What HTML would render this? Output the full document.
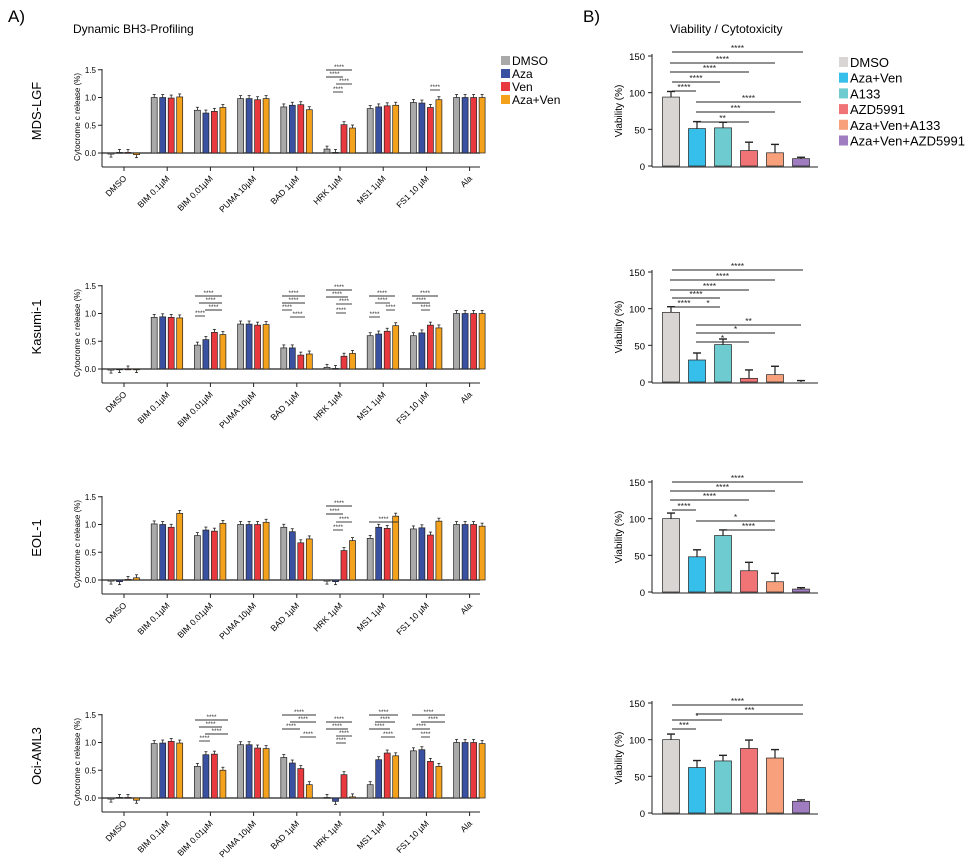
<!DOCTYPE html>
<html><head><meta charset="utf-8"><style>
body{margin:0;background:#fff}
svg{display:block;font-family:"Liberation Sans",Arial,sans-serif}
</style></head><body>
<svg id="s" width="970" height="868" xmlns="http://www.w3.org/2000/svg"></svg>
<script>
const s=document.getElementById('s');let h='';
const T=(x,y,t,sz,a,extra)=>h+=`<text x="${x}" y="${y}" font-size="${sz}" text-anchor="${a||'start'}" ${extra||''}>${t}</text>`;
const L=(x1,y1,x2,y2,w,c)=>h+=`<line x1="${x1}" y1="${y1}" x2="${x2}" y2="${y2}" stroke="${c||'#222'}" stroke-width="${w||1}"/>`;
const R=(x,y,w,hh,c)=>h+=`<rect x="${x}" y="${y}" width="${w}" height="${hh}" fill="${c}" stroke="#222" stroke-width="0.7"/>`;
T(8,22,'A)',17);T(583,22,'B)',17);
T(73,33,'Dynamic BH3-Profiling',12);T(670,33,'Viability / Cytotoxicity',12);
const LC=['#a9a9a9','#3a50a0','#e8393f','#f4a21c'];
const names=['MDS-LGF','Kasumi-1','EOL-1','Oci-AML3'];
const groups=['DMSO','BIM 0.1µM','BIM 0.01µM','PUMA 10µM','BAD 1µM','HRK 1µM','MS1 1µM','FS1 10 µM','Ala'];
const D=[
[[-.02,.01,.01,-.03],[1,1,.99,1.01],[.77,.72,.75,.82],[.98,.98,.96,.98],[.83,.86,.87,.78],[.07,.01,.51,.45],[.8,.83,.85,.86],[.91,.9,.82,.96],[1,1,1,1]],
[[-.02,-.01,0,-.01],[.93,.94,.93,.92],[.43,.53,.66,.62],[.81,.81,.79,.8],[.38,.38,.25,.27],[.03,.01,.23,.28],[.6,.63,.68,.78],[.6,.65,.79,.74],[1,1,1,1]],
[[-.02,-.03,.01,.04],[1.01,1,.95,1.2],[.8,.9,.88,1.02],[1,1,1,1.04],[.95,.87,.67,.74],[-.02,-.03,.53,.71],[.75,.95,.93,1.15],[.92,.94,.81,1.06],[1,1,1,.97]],
[[-.02,.01,.01,-.04],[.98,.99,1.02,.99],[.57,.78,.79,.5],[.96,.96,.9,.89],[.73,.63,.53,.24],[.01,-.06,.42,.02],[.24,.69,.81,.76],[.85,.87,.66,.57],[1,1,1,.98]]];
const Z=[153,369,580,798];
for(let p=0;p<4;p++){
 const z=Z[p],k=55.5;
 L(102,z-84,102,z+14);L(102,z+14,480,z+14);L(102,z,480,z,1.2);
 [0,.5,1,1.5].forEach(v=>{const y=z-v*k;L(98,y,102,y);T(96,y+3,v.toFixed(1),8,'end');});
 T(0,0,'Cytocrome c release (%)',8,'middle',`transform="translate(80,${z-36}) rotate(-90)"`);
 T(0,0,names[p],13,'middle',`transform="translate(41,${z-42}) rotate(-90)"`);
 for(let g=0;g<9;g++){
  const cx=124+g*43.2;L(cx,z+14,cx,z+18);
  T(0,0,groups[g],8.5,'end',`transform="translate(${cx+3},${z+26}) rotate(-45)"`);
  D[p][g].forEach((v,i)=>{const x=cx-16+i*8.5;const y=z-v*k;
   const top=Math.min(y,z),hh=Math.abs(v*k);
   const ey=y-(v>=0?3:-3);
   L(x+3,y,x+3,ey,0.8);L(x+1.5,ey,x+4.5,ey,0.8);
   R(x,top,6,Math.max(hh,0.8),LC[i]);});
 }
}
['DMSO','Aza','Ven','Aza+Ven'].forEach((t,i)=>{h+=`<rect x="501" y="${56+i*13}" width="9" height="9" fill="${LC[i]}"/>`;T(512,65+i*13,t,12);});
const sig=(x1,x2,y)=>{L(x1,y,x2,y,0.9,'#333');T((x1+x2)/2,y-1,'****',6.5,'middle','fill="#333"');};
sig(326,352,70);sig(326,343,77);sig(336,352,84);sig(333,343,92);sig(430,440,90);
sig(195,222,296);sig(199,222,303);sig(205,222,310);sig(195,205,316);
sig(282,305,296);sig(282,305,303);sig(282,292,310);sig(290,305,317);
sig(326,352,290);sig(326,348,297);sig(336,352,304);sig(336,346,313);
sig(369,395,296);sig(375,390,303);sig(386,395,310);sig(369,380,317);
sig(412,438,296);sig(412,430,303);sig(421,430,310);
sig(326,352,506);sig(326,343,514);sig(336,352,522);sig(333,343,530);sig(369,398,522);
sig(195,228,720);sig(199,222,727);sig(205,228,734);sig(199,210,741);
sig(282,316,715);sig(290,316,722);sig(282,300,729);sig(300,316,737);
sig(326,352,722);sig(326,348,729);sig(336,352,736);sig(336,346,743);
sig(369,398,715);sig(375,395,722);sig(369,390,729);sig(381,395,737);
sig(412,445,715);sig(421,445,722);sig(412,430,729);sig(421,430,737);
const RC=['#d9d5d3','#36bfea','#6ecbcf','#f07475','#f7a07b','#a07cc0'];
const RV=[[94,51,52,21,18,10],[95,30,51,5,10,0],[100,48,77,29,14,4],[100,62,71,88,75,16]];
const RE=[4,5,4,6,6,1];
const RZ=[166,382,592,813];
for(let p=0;p<4;p++){
 const z=RZ[p],k=110/150;
 L(652,z-112,652,z+1);L(652,z+1,818,z+1);
 [0,50,100,150].forEach(v=>{const y=z-v*k;L(648,y,652,y);T(645,y+4,v,9.5,'end');});
 T(0,0,'Viability (%)',10,'middle',`transform="translate(622,${z-55}) rotate(-90)"`);
 RV[p].forEach((v,i)=>{const cx=671+i*26;const y=z-v*k;const ey=y-RE[i]*1.4;
  L(cx,y,cx,ey,1.2);L(cx-4,ey,cx+4,ey,1.4);
  R(cx-8.5,y,17,v*k,RC[i]);});
}
const rs=(x1,x2,y,t)=>{L(x1,y,x2,y,1,'#222');T((x1+x2)/2,y-1,t,8.5,'middle','fill="#222"');};
rs(672,803,52,'****');rs(670,775,63,'****');rs(670,749,72,'****');rs(672,720,82,'****');rs(672,696,91,'****');
rs(696,801,102,'****');rs(696,775,112,'***');rs(696,749,122,'**');
rs(672,803,270,'****');rs(670,775,280,'****');rs(670,749,290,'****');rs(672,720,298,'****');rs(672,696,307,'****');rs(696,720,307,'*');
rs(696,801,325,'**');rs(696,775,333,'*');rs(696,749,342,'*');
rs(672,803,482,'****');rs(670,775,491,'****');rs(670,749,500,'****');rs(672,696,510,'****');
rs(696,775,521,'*');rs(722,775,530,'****');
rs(672,803,705,'****');rs(696,803,714,'***');rs(672,722,720,'*');rs(672,696,729,'***');
['DMSO','Aza+Ven','A133','AZD5991','Aza+Ven+A133','Aza+Ven+AZD5991'].forEach((t,i)=>{h+=`<rect x="839" y="${57+i*15.7}" width="9" height="10" fill="${RC[i]}"/>`;T(850,67+i*15.7,t,13);});
s.innerHTML=h;
</script>
</body></html>
